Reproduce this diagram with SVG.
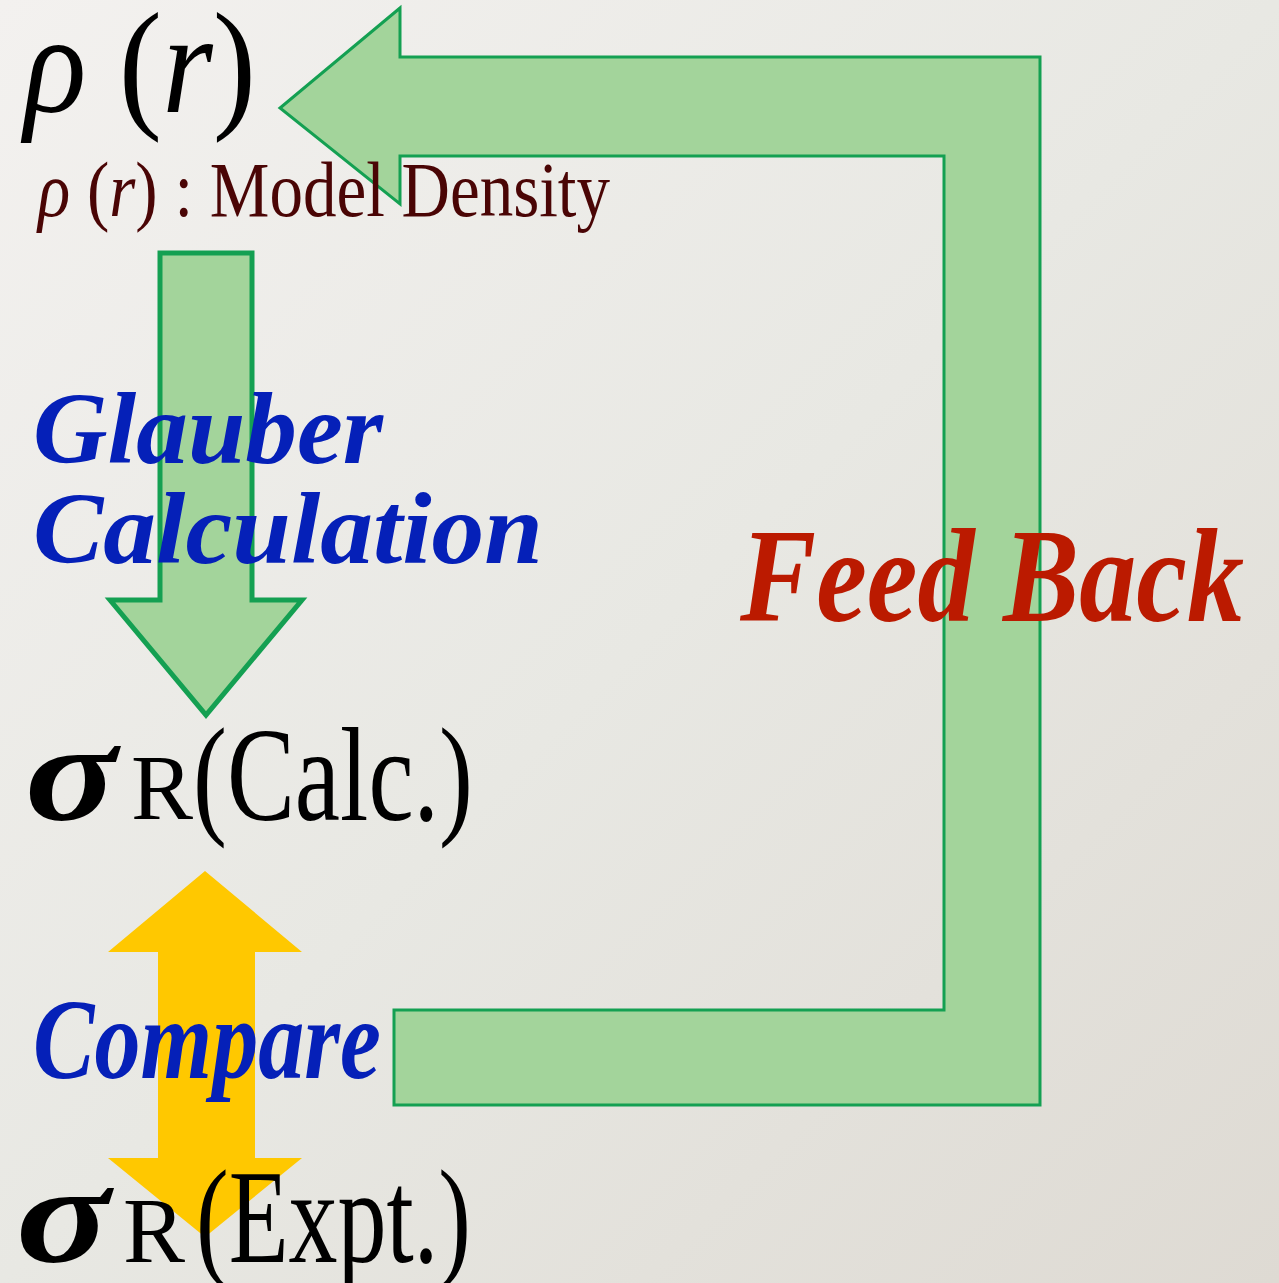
<svg xmlns="http://www.w3.org/2000/svg" width="1279" height="1283" viewBox="0 0 1279 1283">
<defs>
<linearGradient id="bg" x1="0" y1="0" x2="1" y2="1">
<stop offset="0" stop-color="#f3f1ef"/>
<stop offset="0.5" stop-color="#e8e8e3"/>
<stop offset="1" stop-color="#dedad3"/>
</linearGradient>
<style>
.serif{font-family:"Liberation Serif","Times New Roman",serif}
.green{fill:#a3d49b;stroke:#14a052;stroke-linejoin:miter}
.blue{fill:#0520b8;font-weight:bold;font-style:italic}
.blk{fill:#000}
</style>
</defs>
<rect width="1279" height="1283" fill="url(#bg)"/>
<g id="connectors">
<polygon id="feedback" class="green" stroke-width="3" points="400,8 280,108 400,204 400,156 944,156 944,1010 394,1010 394,1105 1040,1105 1040,57 400,57"/>
<polygon id="glauber-arrow" class="green" stroke-width="5" points="160,253 252,253 252,600 302,600 206,715 110,600 160,600"/>
<polygon id="compare-arrow" fill="#ffc800" points="205,871 302,952 255,952 255,1158 302,1158 205,1237 108,1158 158,1158 158,952 108,952"/>
</g>
<g id="rho" class="serif blk">
<text x="24" y="112" font-size="144" textLength="232" lengthAdjust="spacingAndGlyphs"><tspan font-style="italic">ρ</tspan> (<tspan font-style="italic">r</tspan>)</text>
</g>
<g id="rho-label" class="serif">
<text x="38" y="216" font-size="78" fill="#4a0505" textLength="572" lengthAdjust="spacingAndGlyphs"><tspan font-style="italic">ρ</tspan> (<tspan font-style="italic">r</tspan>) : Model Density</text>
</g>
<g id="glauber-label" class="serif blue">
<text x="33" y="463" font-size="102" textLength="350" lengthAdjust="spacingAndGlyphs">Glauber</text>
<text x="33" y="563" font-size="102" textLength="510" lengthAdjust="spacingAndGlyphs">Calculation</text>
</g>
<g id="calc" class="serif blk">
<text x="25" y="820" font-size="140" font-weight="bold" font-style="italic" textLength="92" lengthAdjust="spacingAndGlyphs">σ</text>
<text x="131" y="819" font-size="94" textLength="62" lengthAdjust="spacingAndGlyphs">R</text>
<text x="193" y="820" font-size="134" textLength="280" lengthAdjust="spacingAndGlyphs">(Calc.)</text>
</g>
<g id="compare-label" class="serif blue">
<text x="33" y="1078" font-size="115" textLength="348" lengthAdjust="spacingAndGlyphs">Compare</text>
</g>
<g id="expt" class="serif blk">
<text x="16" y="1262" font-size="140" font-weight="bold" font-style="italic" textLength="94" lengthAdjust="spacingAndGlyphs">σ</text>
<text x="123" y="1262" font-size="94" textLength="62" lengthAdjust="spacingAndGlyphs">R</text>
<text x="196" y="1262" font-size="134" textLength="275" lengthAdjust="spacingAndGlyphs">(Expt.)</text>
</g>
<g id="feedback-label" class="serif">
<text x="740" y="621" font-size="134" font-weight="bold" font-style="italic" fill="#bb1a00" textLength="504" lengthAdjust="spacingAndGlyphs">Feed Back</text>
</g>
</svg>
